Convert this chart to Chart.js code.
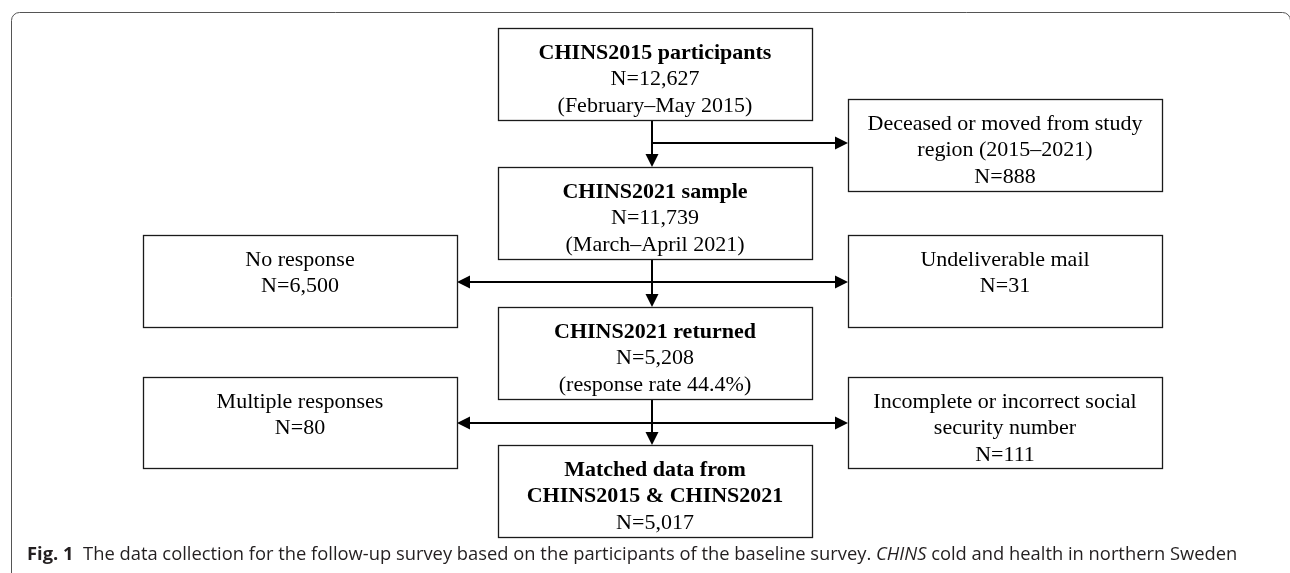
<!DOCTYPE html>
<html>
<head>
<meta charset="utf-8">
<script src="https://cdn.jsdelivr.net/npm/chart.js@4.4.1/dist/chart.umd.min.js"></script>
<style>
  html, body { margin: 0; padding: 0; background: #ffffff; }
  #wrap { position: relative; width: 1290px; height: 573px; }
</style>
</head>
<body>
<div id="wrap"><canvas id="c"></canvas></div>
<script>
// ---- data ----
const stepLabels = ['CHINS2015 participants', 'CHINS2021 sample', 'CHINS2021 returned', 'Matched data from\nCHINS2015 & CHINS2021'];
const stepCounts = [12627, 11739, 5208, 5017];
const stepNotes = ['(February–May 2015)', '(March–April 2021)', '(response rate 44.4%)', ''];
const exclusionLabels = ['Deceased or moved from study\nregion (2015–2021)', 'No response', 'Undeliverable mail', 'Multiple responses', 'Incomplete or incorrect social\nsecurity number'];
const exclusionCounts = [888, 6500, 31, 80, 111];
const captionLabel = 'Fig. 1';
const captionText = 'The data collection for the follow-up survey based on the participants of the baseline survey.';
const captionAbbr = 'CHINS';
const captionDef = 'cold and health in northern Sweden';

// ---- layout (axis units) ----
const layout = {
  spineX: 652,
  main: { x0: 498, x1: 812, tops: [28, 167, 307, 445], h: 91.5 },
  left: { x0: 143, x1: 457 },
  right: { x0: 848, x1: 1162 },
  excl: [
    { col: 'right', top: 99, bottom: 191 },
    { col: 'left', top: 235, bottom: 327 },
    { col: 'right', top: 235, bottom: 327 },
    { col: 'left', top: 377, bottom: 468 },
    { col: 'right', top: 377, bottom: 468 }
  ],
  branchY: [143, 282, 423],
  firstBaseline: 30.5,
  lineStep: 26.5,
  font: '"Liberation Serif", "Times New Roman", serif',
  fontSize: 22,
  captionX: 27, captionBaseline: 560, captionWidth: 1211
};
const fmt = n => 'N=' + n.toLocaleString('en-US');

const flowPlugin = {
  id: 'flow',
  afterDraw(chart) {
    const ctx = chart.ctx;
    const xs = chart.scales.x, ys = chart.scales.y;
    const X = v => xs.getPixelForValue(v);
    const Y = v => ys.getPixelForValue(v);
    ctx.save();

    // outer frame
    ctx.strokeStyle = '#555555';
    ctx.lineWidth = 1;
    const fx0 = X(11) + 0.5, fy0 = Y(12) + 0.5, fx1 = X(1290) + 0.5, fy1 = Y(640), r = 8;
    ctx.beginPath();
    ctx.moveTo(fx0, fy1);
    ctx.lineTo(fx0, fy0 + r);
    ctx.arcTo(fx0, fy0, fx0 + r, fy0, r);
    ctx.lineTo(fx1 - r, fy0);
    ctx.arcTo(fx1, fy0, fx1, fy0 + r, r);
    ctx.lineTo(fx1, fy1);
    ctx.stroke();

    function box(x0, x1, top, bottom, lines) {
      const px0 = Math.round(X(x0)) + 0.5, px1 = Math.round(X(x1)) + 0.5;
      const py0 = Math.round(Y(top)) + 0.5, py1 = Math.round(Y(bottom)) + 0.5;
      ctx.fillStyle = '#ffffff';
      ctx.fillRect(px0, py0, px1 - px0, py1 - py0);
      ctx.strokeStyle = '#1a1a1a';
      ctx.lineWidth = 1.3;
      ctx.strokeRect(px0, py0, px1 - px0, py1 - py0);
      ctx.fillStyle = '#000000';
      ctx.textAlign = 'center';
      ctx.textBaseline = 'alphabetic';
      const cx = (X(x0) + X(x1)) / 2;
      lines.forEach((ln, i) => {
        ctx.font = (ln.bold ? 'bold ' : '') + layout.fontSize + 'px ' + layout.font;
        ctx.fillText(ln.t, cx, Y(top + layout.firstBaseline + i * layout.lineStep));
      });
    }

    function arrowHead(x, y, dir) {
      const L = 13, W = 6.5;
      ctx.beginPath();
      if (dir === 'down') { ctx.moveTo(x, y); ctx.lineTo(x - W, y - L); ctx.lineTo(x + W, y - L); }
      if (dir === 'right') { ctx.moveTo(x, y); ctx.lineTo(x - L, y - W); ctx.lineTo(x - L, y + W); }
      if (dir === 'left') { ctx.moveTo(x, y); ctx.lineTo(x + L, y - W); ctx.lineTo(x + L, y + W); }
      ctx.closePath();
      ctx.fill();
    }

    // connectors
    ctx.strokeStyle = '#000000';
    ctx.fillStyle = '#000000';
    ctx.lineWidth = 2;
    const sx = X(layout.spineX);
    for (let i = 0; i < 3; i++) {
      const yTop = Y(layout.main.tops[i] + layout.main.h);
      const yBot = Y(layout.main.tops[i + 1]);
      ctx.beginPath(); ctx.moveTo(sx, yTop); ctx.lineTo(sx, yBot - 10); ctx.stroke();
      arrowHead(sx, yBot, 'down');
      const by = Y(layout.branchY[i]);
      ctx.beginPath();
      if (i === 0) { ctx.moveTo(sx, by); ctx.lineTo(X(layout.right.x0) - 10, by); }
      else { ctx.moveTo(X(layout.left.x1) + 10, by); ctx.lineTo(X(layout.right.x0) - 10, by); }
      ctx.stroke();
      arrowHead(X(layout.right.x0), by, 'right');
      if (i > 0) arrowHead(X(layout.left.x1), by, 'left');
    }

    // main boxes
    stepLabels.forEach((lab, i) => {
      const lines = lab.split('\n').map(t => ({ t, bold: true }));
      lines.push({ t: fmt(stepCounts[i]), bold: false });
      if (stepNotes[i]) lines.push({ t: stepNotes[i], bold: false });
      const top = layout.main.tops[i];
      box(layout.main.x0, layout.main.x1, top, top + layout.main.h, lines);
    });
    // exclusion boxes
    exclusionLabels.forEach((lab, i) => {
      const lines = lab.split('\n').map(t => ({ t, bold: false }));
      lines.push({ t: fmt(exclusionCounts[i]), bold: false });
      const L = layout.excl[i];
      const col = layout[L.col];
      box(col.x0, col.x1, L.top, L.bottom, lines);
    });

    // caption
    const capFont = '"Open Sans", "Noto Sans", sans-serif';
    const parts = [
      { t: captionLabel + '  ', f: 'bold ' },
      { t: captionText + ' ', f: '' },
      { t: captionAbbr, f: 'italic ' },
      { t: ' ' + captionDef, f: '' }
    ];
    let size = 16;
    const measureAll = s => parts.reduce((a, p) => { ctx.font = p.f + s + 'px ' + capFont; return a + ctx.measureText(p.t).width; }, 0);
    size = size * layout.captionWidth / measureAll(size);
    ctx.textAlign = 'left';
    ctx.fillStyle = '#231f20';
    let cx = X(layout.captionX);
    const cy = Y(layout.captionBaseline);
    parts.forEach(p => {
      ctx.font = p.f + size + 'px ' + capFont;
      ctx.fillText(p.t, cx, cy);
      cx += ctx.measureText(p.t).width;
    });
    ctx.restore();
  }
};

new Chart(document.getElementById('c'), {
  type: 'scatter',
  data: { datasets: [{ data: [], pointRadius: 0 }] },
  options: {
    responsive: true,
    maintainAspectRatio: false,
    animation: false,
    layout: { padding: 0 },
    plugins: { legend: { display: false }, tooltip: { enabled: false }, title: { display: false } },
    scales: {
      x: { type: 'linear', min: 0, max: 1290, display: false },
      y: { type: 'linear', min: 0, max: 573, reverse: true, display: false }
    }
  },
  plugins: [flowPlugin]
});
</script>
</body>
</html>
